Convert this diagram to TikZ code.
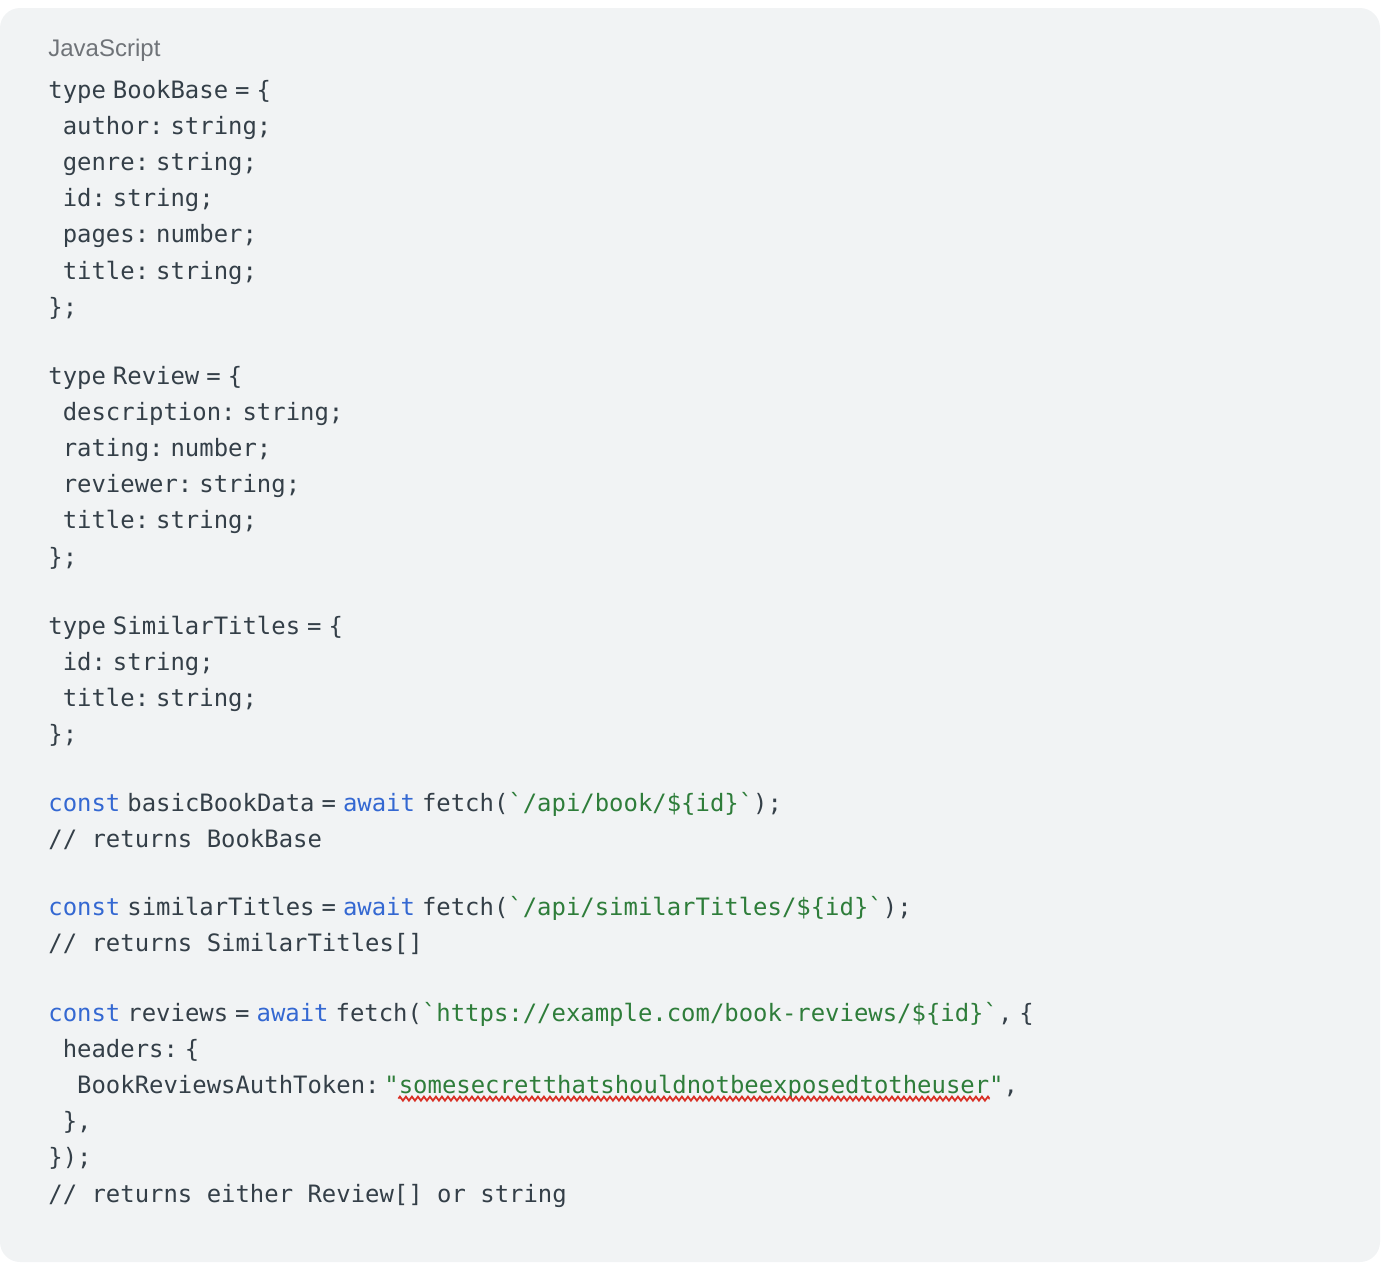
\documentclass[tikz,border=0pt]{standalone}
\usepackage{fontspec}
\usetikzlibrary{positioning,decorations.pathmorphing}

\newfontfamily\codefont{DejaVu Sans Mono}
\newfontfamily\labelfont{Liberation Sans}

\definecolor{bggray}{HTML}{F1F3F4}
\definecolor{codetext}{HTML}{343F48}
\definecolor{kwblue}{HTML}{3468D2}
\definecolor{strgreen}{HTML}{2E7D3A}
\definecolor{langgray}{HTML}{6F7378}
\definecolor{wavered}{HTML}{D93025}

\newcommand\tsp{\hspace{3.5pt}}
\newcommand\bquote{\char"60\relax}
\newcommand\kw[1]{\textcolor{kwblue}{#1}}
\newcommand\strg[1]{\textcolor{strgreen}{#1}}

\begin{document}
\begin{tikzpicture}[x=0.5pt,y=-0.5pt,
	code/.style={anchor=base west,inner sep=0pt,text=codetext,font=\codefont\fontsize{11.96pt}{14pt}\selectfont},
	lang/.style={anchor=base west,inner sep=0pt,text=langgray,font=\labelfont\fontsize{12pt}{14pt}\selectfont},
	squiggle/.style={wavered,line width=0.9pt,decorate,decoration={zigzag,segment length=3pt,amplitude=1pt}}]
	\useasboundingbox (0,0) rectangle (1388,1276);
	\fill[bggray,rounded corners=10pt] (0,8) rectangle (1380,1262);

	\node[lang] (title) at (48,56) {JavaScript};

	% BookBase
	\node[code] (l1) at (48,98) {type\tsp BookBase\tsp=\tsp\{};
	\node[code] (l2) at (62.4,134.2) {author:\tsp string;};
	\node[code] (l3) at (62.4,170.4) {genre:\tsp string;};
	\node[code] (l4) at (62.4,206.6) {id:\tsp string;};
	\node[code] (l5) at (62.4,242.8) {pages:\tsp number;};
	\node[code] (l6) at (62.4,279) {title:\tsp string;};
	\node[code] (l7) at (48,315.2) {\};};

	% Review
	\node[code] (l8) at (48,384) {type\tsp Review\tsp=\tsp\{};
	\node[code] (l9) at (62.4,420.2) {description:\tsp string;};
	\node[code] (l10) at (62.4,456.4) {rating:\tsp number;};
	\node[code] (l11) at (62.4,492.6) {reviewer:\tsp string;};
	\node[code] (l12) at (62.4,528.8) {title:\tsp string;};
	\node[code] (l13) at (48,565) {\};};

	% SimilarTitles
	\node[code] (l14) at (48,634) {type\tsp SimilarTitles\tsp=\tsp\{};
	\node[code] (l15) at (62.4,670.2) {id:\tsp string;};
	\node[code] (l16) at (62.4,706.4) {title:\tsp string;};
	\node[code] (l17) at (48,742.6) {\};};

	% fetch calls
	\node[code] (l18) at (48,811) {\kw{const}\tsp basicBookData\tsp=\tsp\kw{await}\tsp fetch(\strg{\bquote/api/book/\$\{id\}\bquote});};
	\node[code] (l19) at (48,847.2) {// returns BookBase};
	\node[code] (l20) at (48,915.5) {\kw{const}\tsp similarTitles\tsp=\tsp\kw{await}\tsp fetch(\strg{\bquote/api/similarTitles/\$\{id\}\bquote});};
	\node[code] (l21) at (48,951.7) {// returns SimilarTitles[]};
	\node[code] (l22) at (48,1021) {\kw{const}\tsp reviews\tsp=\tsp\kw{await}\tsp fetch(\strg{\bquote https://example.com/book-reviews/\$\{id\}\bquote},\tsp\{};
	\node[code] (l23) at (62.4,1057.2) {headers:\tsp\{};
	\node[code] (l24) at (76.8,1093.4) {BookReviewsAuthToken:};
	\node[code,base right=2pt of l24] (secret) {\strg{"somesecretthatshouldnotbeexposedtotheuser"},};
	\node[code] (l25) at (62.4,1129.6) {\},};
	\node[code] (l26) at (48,1165.8) {\});};
	\node[code] (l27) at (48,1202) {// returns either Review[] or string};

	\draw[squiggle] ([xshift=7.2pt,yshift=-2.6pt]secret.base west) -- ([xshift=-14.4pt,yshift=-2.6pt]secret.base east);
\end{tikzpicture}
\end{document}
